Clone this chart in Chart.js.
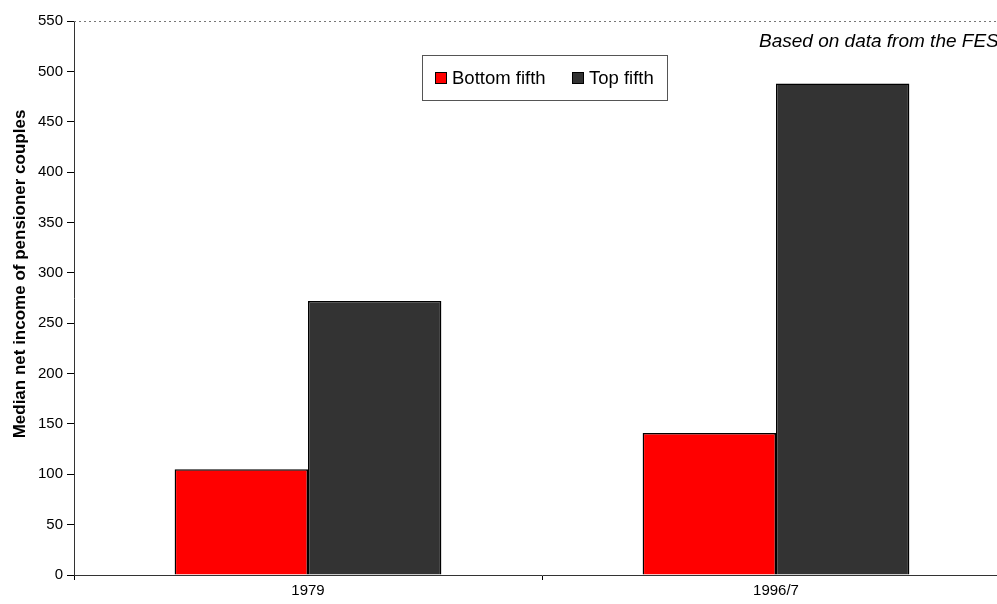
<!DOCTYPE html>
<html>
<head>
<meta charset="utf-8">
<script src="https://cdn.jsdelivr.net/npm/chart.js@4/dist/chart.umd.min.js"></script>
<style>
  html, body { margin: 0; padding: 0; background: #fff; overflow: hidden; }
  #wrap { width: 997px; height: 604px; overflow: hidden; }
</style>
</head>
<body>
<div id="wrap"><canvas id="chart" width="1012" height="604"></canvas></div>
<script>
// data
const years = ['1979', '1996/7'];
const bottomFifth = [105, 141];
const topFifth = [272, 488];
const seriesNames = ['Bottom fifth', 'Top fifth'];
const seriesColours = ['#ff0000', '#333333'];

const FONT = '"Liberation Sans", Arial, sans-serif';

// legend in a box, source note, axis title, dotted top frame
const extras = {
  id: 'extras',
  afterDraw(chart) {
    const ctx = chart.ctx;
    const a = chart.chartArea;
    ctx.save();

    // dotted top border of the plot
    ctx.strokeStyle = '#777';
    ctx.lineWidth = 1;
    ctx.setLineDash([2, 3]);
    ctx.beginPath();
    ctx.moveTo(a.left, a.top + 0.5);
    ctx.lineTo(a.right, a.top + 0.5);
    ctx.stroke();
    ctx.setLineDash([]);

    // y axis title (sits a bit above the middle in the original)
    ctx.fillStyle = '#000';
    ctx.font = 'bold 17px ' + FONT;
    ctx.textAlign = 'center';
    ctx.textBaseline = 'middle';
    ctx.translate(20, 274);
    ctx.rotate(-Math.PI / 2);
    ctx.fillText('Median net income of pensioner couples', 0, 0);
    ctx.setTransform(1, 0, 0, 1, 0, 0);

    // source note
    ctx.font = 'italic 19px ' + FONT;
    ctx.textAlign = 'left';
    ctx.fillText('Based on data from the FES', 759, 42);

    // legend box
    ctx.fillStyle = '#fff';
    ctx.fillRect(422, 55, 245, 45);
    ctx.strokeStyle = '#555';
    ctx.strokeRect(422.5, 55.5, 245, 45);
    const xs = [435, 572];
    ctx.font = '18.5px ' + FONT;
    seriesNames.forEach((name, i) => {
      ctx.fillStyle = seriesColours[i];
      ctx.fillRect(xs[i], 72, 12, 12);
      ctx.strokeStyle = '#000';
      ctx.strokeRect(xs[i] + 0.5, 72.5, 11, 11);
      ctx.fillStyle = '#000';
      ctx.fillText(name, xs[i] + 17, 79);
    });
    ctx.restore();
  }
};

const ctx = document.getElementById('chart').getContext('2d');
new Chart(ctx, {
  type: 'bar',
  data: {
    labels: years,
    datasets: [
      {
        label: seriesNames[0],
        data: bottomFifth,
        backgroundColor: seriesColours[0],
        borderColor: '#000',
        borderWidth: 1.5,
        barPercentage: 1,
        categoryPercentage: 0.57
      },
      {
        label: seriesNames[1],
        data: topFifth,
        backgroundColor: seriesColours[1],
        borderColor: '#000',
        borderWidth: 1.5,
        barPercentage: 1,
        categoryPercentage: 0.57
      }
    ]
  },
  options: {
    responsive: false,
    animation: false,
    layout: { padding: { top: 21, left: 0, right: 2, bottom: 0 } },
    plugins: {
      legend: { display: false },
      tooltip: { enabled: false }
    },
    scales: {
      x: {
        grid: { drawOnChartArea: false, drawTicks: true, tickLength: 5, color: '#000' },
        border: { display: true, color: '#333', dash: [3, 2] },
        ticks: { color: '#000', font: { family: FONT, size: 15 }, padding: 2 },
        afterFit(scale) { scale.height = 29; }
      },
      y: {
        min: 0,
        max: 550,
        ticks: {
          stepSize: 50,
          color: '#000',
          font: { family: FONT, size: 15 },
          padding: 4
        },
        grid: { drawOnChartArea: false, drawTicks: true, tickLength: 7, color: '#000' },
        border: { display: true, color: '#333', dash: [3, 2] },
        afterFit(scale) { scale.width = 74; }
      }
    }
  },
  plugins: [extras]
});
</script>
</body>
</html>
